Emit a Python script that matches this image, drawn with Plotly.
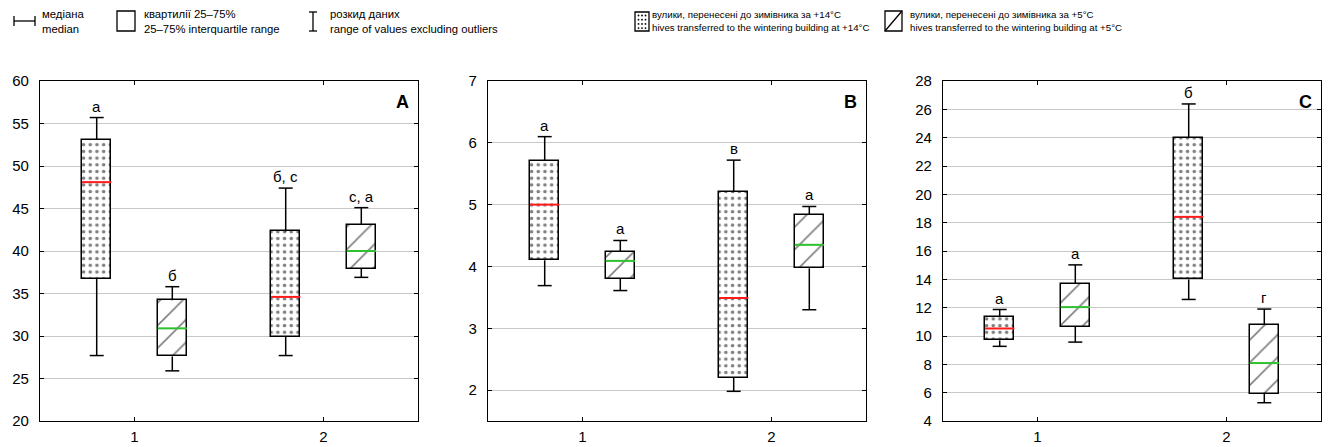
import plotly.graph_objects as go

# ---------------- data ----------------
groups = [1, 2]
tick_text = ["1", "2"]
# per group: [lower whisker, Q1, median, Q3, upper whisker]
A_warm = [[27.7, 36.7, 48.1, 53.1, 55.7], [27.7, 29.9, 34.6, 42.3, 47.4]]
A_cold = [[25.9, 27.6, 30.9, 34.2, 35.8], [36.9, 37.9, 40.0, 43.1, 45.1]]
B_warm = [[3.69, 4.10, 5.00, 5.71, 6.10], [1.98, 2.20, 3.49, 5.20, 5.72]]
B_cold = [[3.61, 3.80, 4.09, 4.24, 4.42], [3.30, 3.97, 4.35, 4.84, 4.97]]
C_warm = [[9.27, 9.69, 10.53, 11.33, 11.87], [12.58, 13.99, 18.41, 23.98, 26.38]]
C_cold = [[9.57, 10.67, 12.04, 13.70, 15.02], [5.29, 5.93, 8.09, 10.79, 11.90]]
A_warm_letters = ["а", "б, с"]
A_cold_letters = ["б", "с, а"]
B_warm_letters = ["а", "в"]
B_cold_letters = ["а", "а"]
C_warm_letters = ["а", "б"]
C_cold_letters = ["а", "г"]
panel_labels = ["A", "B", "C"]

legend_texts = [
    "медіана<br>median",
    "квартилії 25–75%<br>25–75% interquartile range",
    "розкид даних<br>range of values excluding outliers",
    "вулики, перенесені до зимівника за +14°C<br>hives transferred to the wintering building at +14°C",
    "вулики, перенесені до зимівника за +5°C<br>hives transferred to the wintering building at +5°C",
]

# ---------------- style ----------------
W, H = 1337, 447
FONT = "Liberation Sans, Arial, sans-serif"
BOX_W = 0.155
CAP = 0.037
OFFSET = 0.2
RED = "#ff1a1a"
GREEN = "#2ec02e"
GRID = "#c8c8c8"

def px(x):
    return x / W

def py(y):
    return 1 - y / H

x_domains = [(40, 418), (488, 866), (943, 1321)]
y_dom = [py(421), py(81)]
y_ranges = [(20, 60), (1.5, 7), (4, 28)]
y_ticks = [list(range(20, 61, 5)), list(range(2, 8)), list(range(4, 29, 2))]

fig = go.Figure()
annotations = []
shapes = []

panels = [
    (A_warm, A_cold, A_warm_letters, A_cold_letters),
    (B_warm, B_cold, B_warm_letters, B_cold_letters),
    (C_warm, C_cold, C_warm_letters, C_cold_letters),
]

for i, (warm, cold, lw, lc) in enumerate(panels):
    n = "" if i == 0 else str(i + 1)
    xa, ya = "x" + n, "y" + n
    series = [
        (warm, -OFFSET, dict(shape=".", size=6.7, solidity=0.22, fgcolor="black", bgcolor="white"), RED, lw),
        (cold, OFFSET, dict(shape="/", size=16, solidity=0.1, fgcolor="black", bgcolor="white"), GREEN, lc),
    ]
    for stats, off, pattern, mcol, letters in series:
        xs = [g + off for g in groups]
        fig.add_trace(go.Bar(
            x=xs, base=[s[1] for s in stats], y=[s[3] - s[1] for s in stats],
            width=BOX_W, xaxis=xa, yaxis=ya, showlegend=False,
            marker=dict(color="white", pattern=pattern, line=dict(color="black", width=1.5)),
        ))
        wx, wy, mx, my = [], [], [], []
        for x, s in zip(xs, stats):
            wx += [x, x, None, x - CAP, x + CAP, None, x, x, None, x - CAP, x + CAP, None]
            wy += [s[3], s[4], None, s[4], s[4], None, s[1], s[0], None, s[0], s[0], None]
            mx += [x - BOX_W / 2, x + BOX_W / 2, None]
            my += [s[2], s[2], None]
        fig.add_trace(go.Scatter(x=wx, y=wy, mode="lines", xaxis=xa, yaxis=ya, showlegend=False,
                                 line=dict(color="black", width=1.5)))
        fig.add_trace(go.Scatter(x=mx, y=my, mode="lines", xaxis=xa, yaxis=ya, showlegend=False,
                                 line=dict(color=mcol, width=2)))
        for x, s, t in zip(xs, stats, letters):
            annotations.append(dict(x=x, y=s[4], xref=xa, yref=ya, text=t, showarrow=False,
                                    yanchor="bottom", yshift=1, font=dict(size=15, color="black", family=FONT)))
    annotations.append(dict(x=1, y=1, xref=xa + " domain", yref=ya + " domain", text="<b>%s</b>" % panel_labels[i],
                            showarrow=False, xanchor="right", yanchor="top", xshift=-7, yshift=-9,
                            font=dict(size=18, color="black", family=FONT)))
    axis_common = dict(showline=True, linecolor="black", linewidth=1.3, mirror="ticks",
                       ticks="inside", ticklen=4, tickcolor="black", tickwidth=1, automargin=False,
                       zeroline=False, tickfont=dict(size=15, color="black", family=FONT))
    fig.update_layout(**{
        "xaxis" + n: dict(domain=[px(x_domains[i][0]), px(x_domains[i][1])], range=[0.5, 2.5],
                          tickvals=groups, ticktext=tick_text, showgrid=False, anchor=ya,
                          ticklabelstandoff=2, fixedrange=True, **axis_common),
        "yaxis" + n: dict(domain=y_dom, range=list(y_ranges[i]), tickvals=y_ticks[i],
                          showgrid=True, gridcolor=GRID, gridwidth=1, anchor=xa,
                          ticklabelstandoff=7, fixedrange=True, **axis_common),
    })

# ---------------- legend (drawn) ----------------
LW = dict(color="black", width=1.3)
def seg(x0, y0, x1, y1):
    shapes.append(dict(type="line", xref="paper", yref="paper", x0=px(x0), y0=py(y0), x1=px(x1), y1=py(y1), line=LW))

# median symbol
seg(14, 21, 35, 21); seg(14, 16, 14, 26); seg(35, 16, 35, 26)
# quartile box
shapes.append(dict(type="rect", xref="paper", yref="paper", x0=px(117), y0=py(31), x1=px(135), y1=py(11), line=LW))
# range I-beam
seg(313, 12, 313, 31); seg(309, 12, 317, 12); seg(309, 31, 317, 31)
# dotted swatch
shapes.append(dict(type="rect", xref="paper", yref="paper", x0=px(635), y0=py(31), x1=px(649), y1=py(12), line=LW))
for cx in (638.5, 642.0, 645.5):
    for cy in (15.5, 19.7, 23.9, 28.1):
        shapes.append(dict(type="circle", xref="paper", yref="paper", x0=px(cx - 0.9), x1=px(cx + 0.9),
                           y0=py(cy + 0.9), y1=py(cy - 0.9), fillcolor="black", line=dict(width=0)))
# hatch swatch
shapes.append(dict(type="rect", xref="paper", yref="paper", x0=px(885), y0=py(31), x1=px(902), y1=py(11), line=LW))
seg(885, 31, 902, 11)

for j, (tx, t) in enumerate(zip([40, 142, 328, 650, 908], legend_texts)):
    size = 11.3 if j < 3 else 9.7
    annotations.append(dict(x=px(tx), y=py(21), xref="paper", yref="paper", text=t, showarrow=False,
                            xanchor="left", yanchor="middle", align="left",
                            font=dict(size=size, color="black", family=FONT)))

fig.update_layout(
    width=W, height=H, margin=dict(l=0, r=0, t=0, b=0, autoexpand=False),
    paper_bgcolor="white", plot_bgcolor="white",
    barmode="overlay", bargap=0, showlegend=False,
    annotations=annotations, shapes=shapes,
    font=dict(family=FONT, color="black"),
)

fig.write_html("out.html", config={"displayModeBar": False},
               post_script="document.body.style.margin='0';")
